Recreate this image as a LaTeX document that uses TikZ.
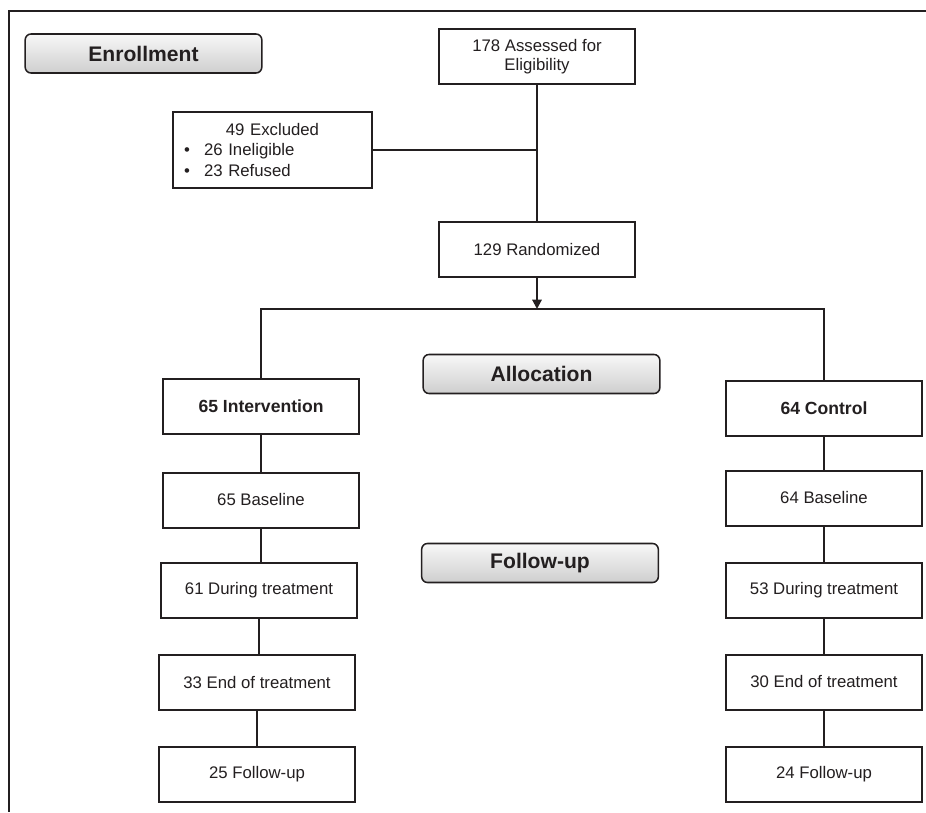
\documentclass[tikz,border=0pt]{standalone}
\usepackage{fontspec}
\setmainfont{Liberation Sans}
\usepackage{tikz}
\usetikzlibrary{arrows.meta, positioning, calc}
\definecolor{ink}{HTML}{231F20}

\begin{document}
\begin{tikzpicture}[
  x=0.03cm, y=-0.03cm,
  every node/.style={font=\fontsize{14.3}{16.5}\selectfont, text=ink},
  box/.style={draw=ink, fill=white, line width=1.7pt, minimum width=5.9cm,
              minimum height=1.65cm, align=center, inner sep=2pt},
  phase/.style={draw=ink, line width=1.3pt, rounded corners=5pt,
                top color=gray!6, bottom color=gray!38, minimum width=7.1cm,
                minimum height=1.17cm, font=\bfseries\fontsize{18}{21}\selectfont},
  link/.style={draw=ink, line width=1.7pt},
  heavy/.style={draw=ink, line width=2.5pt},
  arrow/.style={link, -{Triangle[length=8pt, width=8pt]}},
]
\useasboundingbox (0,0) rectangle (926,812);

% frame
\draw[ink, line width=1.7pt] (926,11) -- (9,11) -- (9,812);

% phase labels
\node[phase] (enroll) at (143.5,53.5) {Enrollment};
\node[phase] (alloc)  at (541.5,374)  {Allocation};
\node[phase] (follow) at (540,563)    {Follow-up};

% enrollment
\node[box] (assess) at (537,56.5)  {178 Assessed for\\Eligibility};
\node[box, minimum width=5.97cm, minimum height=2.28cm, text width=5.3cm,
      align=left] (excl) at (272.5,150)
  {\hspace*{\fill}49 Excluded\hspace*{\fill}\mbox{}\\[1pt]
   •\hspace{12pt}26 Ineligible\\[1pt]
   •\hspace{12pt}23 Refused};
\node[box] (rand)   at (537,249.5) {129 Randomized};
\coordinate (split) at (537,309);

% intervention arm
\node[box, font=\bfseries\fontsize{15}{18}\selectfont] (intv) at (261,406.5) {65 Intervention};
\node[box] (baseI) at (261,500) {65 Baseline};
\node[box] (durI)  at (259,590.5) {61 During treatment};
\node[box] (endI)  at (257,682.5) {33 End of treatment};
\node[box] (fuI)   at (257,774) {25 Follow-up};

% control arm
\node[box, font=\bfseries\fontsize{15}{18}\selectfont] (ctrl) at (824,408.5) {64 Control};
\node[box] (baseC) at (824,498)   {64 Baseline};
\node[box] (durC)  at (824,590.5) {53 During treatment};
\node[box] (endC)  at (824,682)   {30 End of treatment};
\node[box] (fuC)   at (824,774)   {24 Follow-up};

\draw[link]  (assess) -- (rand);
\draw[heavy] (excl.east) -- (excl.east -| assess.south);
\draw[arrow] (rand) -- (split);
\draw[heavy] (intv.north) |- (split) -| (ctrl.north);

\foreach \a/\b in {intv/baseI, baseI/durI, durI/endI, endI/fuI,
                   ctrl/baseC, baseC/durC, durC/endC, endC/fuC}
  \draw[link] (\a.south) -- (\a.south |- \b.north);

\end{tikzpicture}
\end{document}
